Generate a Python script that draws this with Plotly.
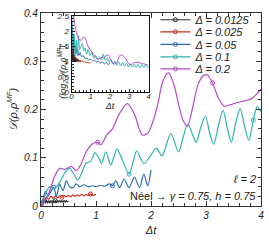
import plotly.graph_objects as go

# ---------------- data ----------------
deltas = ["0.0125", "0.025", "0.05", "0.1", "0.2"]
colors = ["#2a2a2a", "#c4321f", "#2f6db3", "#2fb2b4", "#b548c6"]

# main panel: D(rho, rho^MF) vs Delta t
t_a = [0, 0.02, 0.04, 0.06, 0.08, 0.1, 0.12, 0.14, 0.16, 0.18, 0.2, 0.22, 0.24, 0.26, 0.28,
       0.3, 0.32, 0.34, 0.36, 0.38, 0.4, 0.42, 0.44, 0.46, 0.48, 0.5]
D_a = [0, 0.012, 0.004, 0.014, 0.006, 0.012, 0.006, 0.011, 0.006, 0.011, 0.007, 0.011, 0.007,
       0.011, 0.007, 0.011, 0.008, 0.011, 0.008, 0.011, 0.008, 0.011, 0.008, 0.011, 0.009, 0.010]

t_b = [0, 0.05, 0.1, 0.14, 0.18, 0.22, 0.26, 0.3, 0.34, 0.38, 0.42, 0.46, 0.5, 0.54, 0.58, 0.62,
       0.66, 0.7, 0.74, 0.78, 0.82, 0.86, 0.9, 0.94, 1.0]
D_b = [0, 0.010, 0.018, 0.014, 0.020, 0.016, 0.021, 0.017, 0.021, 0.018, 0.022, 0.019, 0.022,
       0.019, 0.023, 0.020, 0.023, 0.021, 0.024, 0.021, 0.024, 0.022, 0.025, 0.022, 0.024]

t_c = [0, 0.04, 0.08, 0.13, 0.18, 0.23, 0.28, 0.34, 0.4, 0.46, 0.52, 0.58, 0.64, 0.7, 0.78, 0.86,
       0.94, 1.0, 1.08, 1.16, 1.24, 1.3, 1.36, 1.43, 1.51, 1.6, 1.7, 1.79, 1.87, 1.94, 2.0]
D_c = [0, 0.015, 0.030, 0.020, 0.030, 0.039, 0.020, 0.045, 0.032, 0.052, 0.040, 0.038, 0.046,
       0.040, 0.044, 0.040, 0.042, 0.040, 0.043, 0.041, 0.046, 0.042, 0.052, 0.038, 0.056, 0.038,
       0.060, 0.038, 0.066, 0.042, 0.075]

t_d = [0, 0.06, 0.12, 0.18, 0.24, 0.3, 0.37, 0.44, 0.52, 0.6, 0.67, 0.74, 0.82, 0.9, 0.98, 1.05,
       1.1, 1.18, 1.27, 1.38, 1.48, 1.6, 1.67, 1.74, 1.87, 2.0, 2.1, 2.2, 2.36, 2.5, 2.59, 2.67,
       2.75, 2.82, 2.91, 2.99, 3.07, 3.14, 3.23, 3.31, 3.39, 3.46, 3.54, 3.62, 3.7, 3.78, 3.86,
       3.93, 4.0]
D_d = [0, 0.018, 0.035, 0.040, 0.035, 0.042, 0.055, 0.070, 0.078, 0.066, 0.054, 0.068, 0.089,
       0.092, 0.110, 0.100, 0.088, 0.112, 0.085, 0.118, 0.095, 0.066, 0.090, 0.114, 0.088, 0.106,
       0.120, 0.104, 0.150, 0.112, 0.145, 0.170, 0.150, 0.132, 0.165, 0.186, 0.150, 0.128, 0.168,
       0.198, 0.160, 0.132, 0.172, 0.202, 0.166, 0.136, 0.178, 0.206, 0.195]

t_e = [0, 0.08, 0.16, 0.25, 0.34, 0.43, 0.55, 0.64, 0.72, 0.82, 0.94, 1.03, 1.09, 1.2, 1.3, 1.42,
       1.57, 1.7, 1.84, 1.95, 2.1, 2.22, 2.32, 2.42, 2.5, 2.58, 2.66, 2.75, 2.85, 2.95, 3.02,
       3.12, 3.22, 3.33, 3.45, 3.58, 3.7, 3.82, 3.92, 4.0]
D_e = [0, 0.012, 0.032, 0.062, 0.078, 0.076, 0.082, 0.073, 0.085, 0.112, 0.129, 0.132, 0.127,
       0.148, 0.160, 0.190, 0.212, 0.190, 0.147, 0.152, 0.200, 0.260, 0.276, 0.250, 0.212,
       0.178, 0.165, 0.200, 0.250, 0.270, 0.272, 0.255, 0.225, 0.207, 0.210, 0.215, 0.218,
       0.222, 0.232, 0.242]

# inset: log2 D vs Delta t
ti_a = [0.005, 0.015, 0.025, 0.035, 0.045, 0.055, 0.065, 0.075, 0.085, 0.095, 0.105, 0.115,
        0.125, 0.14, 0.155, 0.17, 0.185, 0.2, 0.22, 0.24, 0.26, 0.28, 0.3, 0.32, 0.35, 0.38,
        0.41, 0.44, 0.47, 0.5]
Li_a = [2.5, 1.3, 2.0, 1.1, 1.7, 1.05, 1.5, 1.0, 1.4, 1.0, 1.3, 1.0, 1.25, 1.0, 1.2, 1.0, 1.15,
        1.0, 1.12, 1.0, 1.1, 1.0, 1.08, 1.0, 1.06, 1.0, 1.05, 1.0, 1.04, 1.0]

ti_b = [0.01, 0.03, 0.05, 0.07, 0.1, 0.13, 0.17, 0.21, 0.25, 0.3, 0.35, 0.4, 0.45, 0.5, 0.55,
        0.6, 0.65, 0.7, 0.75, 0.8, 0.85, 0.9, 0.95, 1.0]
Li_b = [2.0, 1.4, 1.6, 1.25, 1.35, 1.15, 1.2, 1.1, 1.12, 1.06, 1.08, 1.03, 1.05, 1.0, 1.02, 0.99,
        1.0, 0.97, 0.99, 0.96, 0.98, 0.95, 0.97, 0.95]

ti_c = [0.02, 0.05, 0.08, 0.11, 0.14, 0.18, 0.22, 0.27, 0.32, 0.38, 0.45, 0.52, 0.6, 0.7, 0.8,
        0.9, 1.0, 1.1, 1.2, 1.3, 1.4, 1.5, 1.6, 1.7, 1.8, 1.9, 2.0]
Li_c = [2.2, 1.6, 1.9, 1.4, 1.7, 1.3, 1.5, 1.25, 1.4, 1.2, 1.3, 1.15, 1.2, 1.1, 1.12, 1.05, 1.08,
        1.02, 1.05, 0.98, 1.02, 0.95, 1.0, 0.92, 0.98, 0.9, 0.95]

ti_d = [0.03, 0.08, 0.13, 0.18, 0.24, 0.3, 0.36, 0.42, 0.5, 0.56, 0.63, 0.7, 0.78, 0.86, 0.95,
        1.05, 1.15, 1.25, 1.35, 1.45, 1.55, 1.65, 1.75, 1.85, 1.95, 2.05, 2.15, 2.25, 2.35,
        2.45, 2.55, 2.65, 2.75, 2.85, 2.95, 3.05, 3.15, 3.25, 3.35, 3.45, 3.55, 3.65, 3.75,
        3.85, 3.95, 4.0]
Li_d = [2.3, 1.4, 1.9, 1.2, 1.7, 1.2, 1.85, 1.4, 1.5, 1.6, 1.35, 1.45, 1.25, 1.4, 1.2, 1.3, 1.12,
        1.2, 1.08, 1.15, 1.05, 1.25, 1.05, 1.12, 0.98, 1.08, 0.92, 1.02, 0.88, 1.0, 0.86, 0.97,
        0.85, 0.95, 0.83, 0.93, 0.82, 0.92, 0.81, 0.91, 0.8, 0.9, 0.8, 0.9, 0.8, 0.85]

ti_e = [0.05, 0.1, 0.15, 0.2, 0.3, 0.4, 0.5, 0.6, 0.7, 0.8, 0.9, 1.0, 1.1, 1.2, 1.3, 1.4, 1.5,
        1.6, 1.7, 1.8, 1.9, 2.0, 2.1, 2.2, 2.3, 2.4, 2.5, 2.6, 2.7, 2.8, 2.9, 3.0, 3.1, 3.2,
        3.3, 3.4, 3.5, 3.6, 3.7, 3.8, 3.9, 4.0]
Li_e = [2.7, 2.5, 2.3, 2.08, 1.86, 1.72, 1.7, 1.8, 1.78, 1.6, 1.45, 1.36, 1.28, 1.18, 1.1, 1.08,
        1.12, 1.14, 1.12, 1.2, 1.22, 1.1, 0.98, 0.92, 0.94, 1.05, 1.2, 1.22, 1.18, 1.1, 1.0,
        0.92, 0.9, 0.95, 0.98, 0.98, 0.97, 0.95, 0.93, 0.92, 0.9, 0.88]

x_ticks = [0, 1, 2, 3, 4]
y_ticks = [0, 0.1, 0.2, 0.3, 0.4]
inset_y_ticks = [0, 0.5, 1, 1.5, 2, 2.5]

main_t = [t_a, t_b, t_c, t_d, t_e]
main_D = [D_a, D_b, D_c, D_d, D_e]
ins_t = [ti_a, ti_b, ti_c, ti_d, ti_e]
ins_L = [Li_a, Li_b, Li_c, Li_d, Li_e]

# ---------------- figure ----------------
FONT = "Liberation Sans, Arial, Helvetica, sans-serif"
fig = go.Figure()

legend_y = [0.965, 0.9025, 0.8375, 0.7725, 0.71]
for i, d in enumerate(deltas):
    lg = "legend" if i == 0 else f"legend{i + 1}"
    fig.add_trace(go.Scatter(
        x=main_t[i], y=main_D[i], mode="lines+markers", name=f"Δ = {d}",
        line=dict(color=colors[i], width=1.2, shape="spline", smoothing=0.8),
        marker=dict(symbol="circle-open", size=4, color=colors[i], maxdisplayed=2),
        legend=lg, xaxis="x", yaxis="y"))
for i, d in enumerate(deltas):
    fig.add_trace(go.Scatter(
        x=ins_t[i], y=ins_L[i], mode="lines", showlegend=False,
        line=dict(color=colors[i], width=1, shape="spline", smoothing=0.6),
        xaxis="x2", yaxis="y2"))

axis_common = dict(showgrid=False, zeroline=False, ticks="inside", mirror="allticks",
                   showline=True, linecolor="#333", linewidth=1.3, tickcolor="#333")

fig.update_layout(
    width=269, height=248,
    margin=dict(l=41, r=5, t=6, b=42, pad=0),
    paper_bgcolor="white", plot_bgcolor="white",
    font=dict(family=FONT, size=10, color="#222", style="italic"),
    xaxis=dict(domain=[0, 1], range=[0, 4], tickvals=x_ticks, ticklen=5,
               tickfont=dict(size=10, style="italic"),
               minor=dict(dtick=0.2, ticklen=3, ticks="inside", tickcolor="#333"),
               title=dict(text="Δt", font=dict(size=11, style="italic"), standoff=6),
               anchor="y", **axis_common),
    yaxis=dict(domain=[0, 1], range=[0, 0.4], tickvals=y_ticks,
               ticktext=["0", "0.1", "0.2", "0.3", "0.4"], ticklen=5,
               tickfont=dict(size=10, style="italic"),
               minor=dict(dtick=0.02, ticklen=3, ticks="inside", tickcolor="#333"),
               title=dict(text="𝒟(ρ,ρ<sup>MF</sup>)", font=dict(size=11, style="italic"),
                          standoff=4),
               anchor="x", **axis_common),
    xaxis2=dict(domain=[0.139, 0.489], range=[0, 4], tickvals=x_ticks, ticklen=3,
                tickfont=dict(size=8, style="italic"), ticklabelstandoff=-4,
                minor=dict(dtick=0.2, ticklen=2, ticks="inside", tickcolor="#222"),
                title=dict(text="Δt", font=dict(size=9, style="italic"), standoff=0),
                anchor="y2", showgrid=False, zeroline=False, ticks="inside",
                mirror=True, showline=True, linecolor="#111", linewidth=1.2,
                tickcolor="#222"),
    yaxis2=dict(domain=[0.59, 0.985], range=[0, 2.5], tickvals=inset_y_ticks,
                ticktext=["0", "0.5", "1", "1.5", "2", "2.5"], ticklen=3,
                tickfont=dict(size=8, style="italic"),
                minor=dict(dtick=0.1, ticklen=2, ticks="inside", tickcolor="#222"),
                anchor="x2", showgrid=False, zeroline=False, ticks="inside",
                mirror=True, showline=True, linecolor="#111", linewidth=1.2,
                tickcolor="#222"),
    annotations=[
        dict(text="(log<sub>2</sub>𝒟(ρ,ρ<sup>MF</sup>)", textangle=-90, xref="paper",
             yref="paper", x=0.058, y=0.84, showarrow=False,
             font=dict(size=9, style="italic")),
        dict(text="ℓ = 2", xref="paper", yref="paper", x=0.985, y=0.14,
             xanchor="right", yanchor="middle", showarrow=False,
             font=dict(size=11, style="italic")),
        dict(text="Néel → <i>γ = 0.75, h = 0.75</i>", xref="paper", yref="paper",
             x=0.985, y=0.05, xanchor="right", yanchor="middle", showarrow=False,
             font=dict(size=11, style="normal")),
    ],
)

for i in range(5):
    key = "legend" if i == 0 else f"legend{i + 1}"
    fig.update_layout({key: dict(x=0.52, y=legend_y[i], xanchor="left", yanchor="middle",
                                 bgcolor="rgba(0,0,0,0)", borderwidth=0, itemwidth=30,
                                 font=dict(size=11, style="italic", color="#222"))})

fig.write_html("out.html", config={"displayModeBar": False},
               post_script="document.body.style.margin='0';document.body.style.overflow='hidden';")
